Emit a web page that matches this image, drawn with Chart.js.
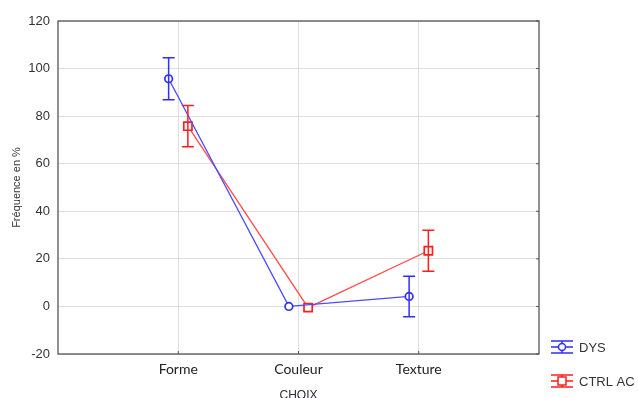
<!DOCTYPE html>
<html>
<head>
<meta charset="utf-8">
<script src="https://cdn.jsdelivr.net/npm/chart.js@4"></script>
<style>
html,body{margin:0;padding:0;background:#fff;}
#wrap{width:638px;height:398px;}
</style>
</head>
<body>
<div id="wrap"><canvas id="c" width="638" height="398"></canvas></div>
<script>
const categories = ['Forme', 'Couleur', 'Texture'];
const seriesNames = ['DYS', 'CTRL AC'];
const dysValues = [95.7, 0, 4.2];
const dysErrors = [8.8, 0, 8.5];
const ctrlValues = [75.8, -0.5, 23.4];
const ctrlErrors = [8.7, 0, 8.6];
const yTickMin = -20, yTickMax = 120, yTickStep = 20;
const xAxisTitle = 'CHOIX';
const yAxisTitle = 'Fréquence en %';

const BLUE = '#2f2ff5', BLUE_LINE = '#4a4aff';
const RED = '#ff1e1e', RED_LINE = '#ff4a4a';
const OFFSET = 0.08;

function pts(vals, off){ return vals.map((v,i)=>({x:i+1+off, y:v})); }

const errorBars = {
  id:'errorBars',
  afterDatasetsDraw(chart){
    const ctx = chart.ctx, ys = chart.scales.y, xs = chart.scales.x;
    chart.data.datasets.forEach((ds)=>{
      if(!ds.errors) return;
      ctx.save();
      ctx.strokeStyle = ds.borderColorErr; ctx.lineWidth = 1.5;
      ds.data.forEach((p,i)=>{
        const e = ds.errors[i]; if(!e) return;
        const x = xs.getPixelForValue(p.x);
        const y1 = ys.getPixelForValue(p.y+e), y2 = ys.getPixelForValue(p.y-e);
        ctx.beginPath();
        ctx.moveTo(x,y1); ctx.lineTo(x,y2);
        ctx.moveTo(x-6,y1); ctx.lineTo(x+6,y1);
        ctx.moveTo(x-6,y2); ctx.lineTo(x+6,y2);
        ctx.stroke();
      });
      ctx.restore();
    });
  }
};

const frame = {
  id:'frame',
  afterDraw(chart){
    const {ctx, chartArea:a} = chart;
    ctx.save();
    ctx.strokeStyle = '#555'; ctx.lineWidth = 1.3;
    ctx.strokeRect(a.left, a.top, a.right-a.left, a.bottom-a.top);
    ctx.lineWidth = 1;
    const ys = chart.scales.y, xs = chart.scales.x;
    for(let v=yTickMin; v<=yTickMax; v+=yTickStep){
      const y = ys.getPixelForValue(v);
      ctx.beginPath(); ctx.moveTo(a.right-3,y); ctx.lineTo(a.right,y); ctx.stroke();
    }
    categories.forEach((c,i)=>{
      const x = xs.getPixelForValue(i+1);
      ctx.beginPath(); ctx.moveTo(x,a.bottom-3); ctx.lineTo(x,a.bottom); ctx.stroke();
    });
    // legend
    const items = chart.data.datasets;
    const lx = 562, lys = [347, 381];
    items.forEach((ds,k)=>{
      const y = lys[k];
      ctx.strokeStyle = ds.borderColorErr; ctx.lineWidth = 1.5;
      ctx.beginPath();
      ctx.moveTo(lx-11,y-6); ctx.lineTo(lx+11,y-6);
      ctx.moveTo(lx-11,y); ctx.lineTo(lx+11,y);
      ctx.moveTo(lx-11,y+6); ctx.lineTo(lx+11,y+6);
      ctx.moveTo(lx,y-6); ctx.lineTo(lx,y+6);
      ctx.stroke();
      ctx.fillStyle='#fff';
      if(ds.pointStyle==='circle'){
        ctx.beginPath(); ctx.arc(lx,y,3.5,0,Math.PI*2); ctx.fill(); ctx.stroke();
      } else {
        ctx.fillRect(lx-4,y-4,8,8); ctx.strokeRect(lx-4,y-4,8,8);
      }
      ctx.fillStyle='#333'; ctx.font='13px "Liberation Sans", Arial, sans-serif';
      ctx.textBaseline='middle'; ctx.textAlign='left';
      ctx.fillText(ds.label, 579, y+1);
    });
    ctx.restore();
  }
};

new Chart(document.getElementById('c'), {
  type:'line',
  data:{
    datasets:[
      {label:seriesNames[0], data:pts(dysValues,-OFFSET), errors:dysErrors, borderColorErr:BLUE,
       borderColor:BLUE_LINE, borderWidth:1.3, pointStyle:'circle', pointRadius:3.8, pointBorderWidth:1.7,
       pointBorderColor:BLUE, pointBackgroundColor:'#fff', tension:0},
      {label:seriesNames[1], data:pts(ctrlValues,OFFSET), errors:ctrlErrors, borderColorErr:RED,
       borderColor:RED_LINE, borderWidth:1.3, pointStyle:'rect', pointRadius:5.8, pointBorderWidth:1.7,
       pointBorderColor:RED, pointBackgroundColor:'#fff', tension:0}
    ]
  },
  options:{
    responsive:false, animation:false, devicePixelRatio:1,
    layout:{padding:{top:21,right:99,left:0,bottom:0}},
    plugins:{legend:{display:false}, tooltip:{enabled:false}},
    scales:{
      x:{type:'linear', min:0, max:categories.length+1,
        afterBuildTicks(s){ s.ticks = categories.map((c,i)=>({value:i+1})); },
        afterFit(s){ s.height = 44; },
        border:{display:false},
        grid:{color:'#dedede', lineWidth:1, drawTicks:false},
        ticks:{autoSkip:false, maxRotation:0, padding:7, color:'#222',
          font:{family:'Lato, "Open Sans", sans-serif', size:14},
          callback:(v)=>categories[v-1] || ''},
        title:{display:true, text:xAxisTitle, color:'#2a2a3a', padding:{top:0,bottom:-5},
          font:{family:'"Liberation Sans", Arial, sans-serif', size:12}}
      },
      y:{min:yTickMin, max:yTickMax,
        afterFit(s){ s.width = 58; },
        border:{display:false},
        grid:{color:'#dedede', lineWidth:1, drawTicks:false},
        ticks:{stepSize:yTickStep, padding:8, color:'#333',
          font:{family:'"Liberation Sans", Arial, sans-serif', size:13}},
        title:{display:true, text:yAxisTitle, color:'#3a3330', padding:{top:10,bottom:0},
          font:{family:'"Liberation Sans", Arial, sans-serif', size:11}}
      }
    }
  },
  plugins:[errorBars, frame]
});
</script>
</body>
</html>
